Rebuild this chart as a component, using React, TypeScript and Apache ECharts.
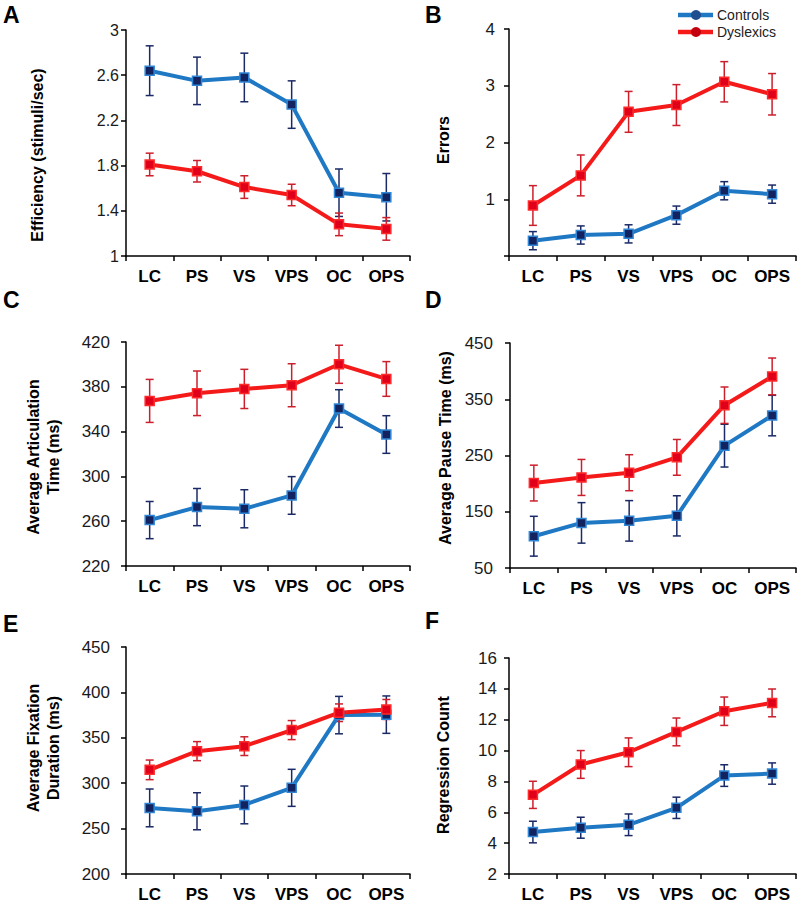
import React, { useEffect, useRef } from "react";
import * as echarts from "echarts";

const categories = ["LC", "PS", "VS", "VPS", "OC", "OPS"];

// Panel A – Efficiency
const effCtrl = [2.64, 2.55, 2.58, 2.34, 1.56, 1.52];
const effCtrlErr = [0.22, 0.21, 0.215, 0.21, 0.21, 0.21];
const effDys = [1.81, 1.75, 1.61, 1.54, 1.28, 1.24];
const effDysErr = [0.1, 0.095, 0.1, 0.095, 0.1, 0.1];
const effTicks = [1, 1.4, 1.8, 2.2, 2.6, 3];

// Panel B – Errors
const errCtrl = [0.27, 0.37, 0.39, 0.72, 1.15, 1.09];
const errCtrlErr = [0.16, 0.16, 0.16, 0.16, 0.16, 0.16];
const errDys = [0.89, 1.42, 2.54, 2.66, 3.07, 2.85];
const errDysErr = [0.35, 0.36, 0.36, 0.36, 0.355, 0.365];
const errTicks = [0, 1, 2, 3, 4];
const errLabels = [1, 2, 3, 4];

// Panel C – Articulation time
const artCtrl = [261, 272.6, 271.1, 283, 360.6, 337.4];
const artCtrlErr = [16.6, 16.6, 17, 16.8, 16.8, 16.8];
const artDys = [367.4, 374.2, 378.1, 381.4, 400.1, 387];
const artDysErr = [19.2, 19.9, 17.5, 19.2, 17, 15.5];
const artTicks = [220, 260, 300, 340, 380, 420];

// Panel D – Pause time
const pauseCtrl = [106.5, 130.2, 133.8, 142.7, 267.5, 321];
const pauseCtrlErr = [35.4, 36, 36, 35.7, 38, 36];
const pauseDys = [201, 211, 219.4, 246.7, 339.4, 390.6];
const pauseDysErr = [31.8, 32, 32, 31.8, 32.4, 32.7];
const pauseTicks = [50, 150, 250, 350, 450];

// Panel E – Fixation duration
const fixCtrl = [272.8, 269.1, 276.1, 294.9, 375, 375.5];
const fixCtrlErr = [20.8, 20.4, 20.8, 20.4, 20.6, 20.6];
const fixDys = [314.7, 335.3, 340.8, 358.5, 377.6, 381.2];
const fixDysErr = [10.8, 10.5, 10.3, 10.5, 9.7, 11];
const fixTicks = [200, 250, 300, 350, 400, 450];

// Panel F – Regression count
const regCtrl = [4.72, 5.0, 5.19, 6.29, 8.38, 8.51];
const regCtrlErr = [0.7, 0.68, 0.7, 0.69, 0.7, 0.69];
const regDys = [7.13, 9.1, 9.89, 11.21, 12.55, 13.09];
const regDysErr = [0.88, 0.9, 0.93, 0.9, 0.92, 0.9];
const regTicks = [2, 4, 6, 8, 10, 12, 14, 16];

const panelLetters = ["A", "B", "C", "D", "E", "F"];
const yTitles = [
  "Efficiency (stimuli/sec)",
  "Errors",
  "Average Articulation\nTime (ms)",
  "Average Pause Time (ms)",
  "Average Fixation\nDuration (ms)",
  "Regression Count",
];
const seriesNames = ["Controls", "Dyslexics"];

const FONT = "'Liberation Sans', Arial, Helvetica, sans-serif";
const BLUE_LINE = "#1f78c4";
const NAVY = "#13235f";
const NAVY_BAR = "#1b2a66";
const RED_LINE = "#f51a1a";
const RED_MARK = "#e0001a";
const RED_BAR = "#cc1f2c";

export default function App() {
  const ref = useRef<HTMLDivElement>(null);

  useEffect(() => {
    if (!ref.current) return;
    const chart = echarts.init(ref.current, null, { renderer: "svg" });

    const panels = [
      { ctrl: effCtrl, ctrlErr: effCtrlErr, dys: effDys, dysErr: effDysErr, ticks: effTicks, labels: effTicks, min: 1, max: 3 },
      { ctrl: errCtrl, ctrlErr: errCtrlErr, dys: errDys, dysErr: errDysErr, ticks: errTicks, labels: errLabels, min: 0, max: 4 },
      { ctrl: artCtrl, ctrlErr: artCtrlErr, dys: artDys, dysErr: artDysErr, ticks: artTicks, labels: artTicks, min: 220, max: 420 },
      { ctrl: pauseCtrl, ctrlErr: pauseCtrlErr, dys: pauseDys, dysErr: pauseDysErr, ticks: pauseTicks, labels: pauseTicks, min: 50, max: 450 },
      { ctrl: fixCtrl, ctrlErr: fixCtrlErr, dys: fixDys, dysErr: fixDysErr, ticks: fixTicks, labels: fixTicks, min: 200, max: 450 },
      { ctrl: regCtrl, ctrlErr: regCtrlErr, dys: regDys, dysErr: regDysErr, ticks: regTicks, labels: regTicks, min: 2, max: 16 },
    ];

    const grids = [
      { left: 126, top: 30, width: 284, height: 226 },
      { left: 509, top: 29, width: 287, height: 227 },
      { left: 126, top: 342, width: 284, height: 224 },
      { left: 510, top: 343, width: 286, height: 225 },
      { left: 126, top: 647, width: 284, height: 227 },
      { left: 509, top: 658, width: 287, height: 216 },
    ];
    const labelMargins = [7, 14, 16, 17, 16, 12];
    const labelSizes = [16, 17, 17, 17, 17, 17];

    const xAxis = grids.map((_, i) => ({
      type: "category",
      gridIndex: i,
      data: categories,
      boundaryGap: true,
      axisLine: { show: true, lineStyle: { color: "#000", width: 1.5 } },
      axisTick: { show: true, length: 5, lineStyle: { color: "#000", width: 1.5 } },
      axisLabel: {
        show: true,
        margin: 12,
        color: "#000",
        fontSize: 17,
        fontWeight: "bold",
        fontFamily: FONT,
        interval: 0,
      },
      splitLine: { show: false },
    }));

    const yAxis = panels.map((p, i) => ({
      type: "value",
      gridIndex: i,
      min: p.min,
      max: p.max,
      axisLine: { show: true, lineStyle: { color: "#000", width: 1.5 } },
      axisTick: { show: true, length: 5, customValues: p.ticks, lineStyle: { color: "#000", width: 1.5 } },
      axisLabel: {
        show: true,
        customValues: p.labels,
        margin: labelMargins[i],
        color: "#1a1a1a",
        fontSize: labelSizes[i],
        fontFamily: FONT,
      },
      splitLine: { show: false },
    }));

    const errSeries = (i: number, means: number[], errs: number[], color: string, name: string) => ({
      type: "custom",
      name,
      xAxisIndex: i,
      yAxisIndex: i,
      data: means.map((m, j) => [j, m - errs[j], m + errs[j]]),
      encode: { x: 0, y: [1, 2] },
      renderItem: (params: any, api: any) => {
        const x = api.value(0);
        const lo = api.coord([x, api.value(1)]);
        const hi = api.coord([x, api.value(2)]);
        const w = 4;
        const style = { stroke: color, lineWidth: 1.5 };
        return {
          type: "group",
          children: [
            { type: "line", shape: { x1: lo[0], y1: lo[1], x2: hi[0], y2: hi[1] }, style },
            { type: "line", shape: { x1: lo[0] - w, y1: lo[1], x2: lo[0] + w, y2: lo[1] }, style },
            { type: "line", shape: { x1: hi[0] - w, y1: hi[1], x2: hi[0] + w, y2: hi[1] }, style },
          ],
        };
      },
    });

    const series: any[] = [];
    panels.forEach((p, i) => {
      series.push(errSeries(i, p.ctrl, p.ctrlErr, NAVY_BAR, seriesNames[0] + " SE"));
      series.push({
        type: "line",
        name: seriesNames[0],
        xAxisIndex: i,
        yAxisIndex: i,
        data: p.ctrl,
        symbol: "rect",
        symbolSize: 9,
        lineStyle: { color: BLUE_LINE, width: 4 },
        itemStyle: { color: NAVY, borderColor: "#2f86d6", borderWidth: 1.5 },
      });
      series.push(errSeries(i, p.dys, p.dysErr, RED_BAR, seriesNames[1] + " SE"));
      series.push({
        type: "line",
        name: seriesNames[1],
        xAxisIndex: i,
        yAxisIndex: i,
        data: p.dys,
        symbol: "rect",
        symbolSize: 9,
        lineStyle: { color: RED_LINE, width: 4 },
        itemStyle: { color: RED_MARK, borderColor: "#ff2a2a", borderWidth: 1.5 },
      });
    });

    const letterPos = [
      [3, 15], [425, 15], [3, 300], [425, 300], [3, 624], [425, 621],
    ];
    const titlePos = [
      [37, 155], [443, 140], [43, 457], [445, 448], [43, 748], [443, 765],
    ];

    const graphic: any[] = [];
    panelLetters.forEach((l, i) => {
      graphic.push({
        type: "text",
        x: letterPos[i][0],
        y: letterPos[i][1],
        style: { text: l, font: `bold 23px ${FONT}`, fill: "#000", verticalAlign: "middle", align: "left" },
      });
    });
    yTitles.forEach((t, i) => {
      graphic.push({
        type: "text",
        x: titlePos[i][0],
        y: titlePos[i][1],
        rotation: Math.PI / 2,
        style: {
          text: t,
          font: `bold 16px ${FONT}`,
          fill: "#000",
          align: "center",
          verticalAlign: "middle",
          lineHeight: 20,
        },
      });
    });
    // legend
    const legendRows = [
      { name: seriesNames[0], y: 15, line: BLUE_LINE, dot: "#1f4f8f" },
      { name: seriesNames[1], y: 32, line: RED_LINE, dot: "#c4000e" },
    ];
    legendRows.forEach((r) => {
      graphic.push({ type: "line", shape: { x1: 678, y1: r.y, x2: 713, y2: r.y }, style: { stroke: r.line, lineWidth: 4.5 } });
      graphic.push({ type: "circle", shape: { cx: 696, cy: r.y, r: 5 }, style: { fill: r.dot } });
      graphic.push({
        type: "text",
        x: 717,
        y: r.y,
        style: { text: r.name, font: `14px ${FONT}`, fill: "#222", verticalAlign: "middle", align: "left" },
      });
    });

    chart.setOption({
      animation: false,
      backgroundColor: "#fff",
      grid: grids.map((g) => ({ ...g, containLabel: false })),
      xAxis,
      yAxis,
      series,
      graphic,
    });

    return () => chart.dispose();
  }, []);

  return (
    <div
      ref={ref}
      style={{ position: "absolute", left: 0, top: 0, width: 800, height: 904 }}
    />
  );
}
